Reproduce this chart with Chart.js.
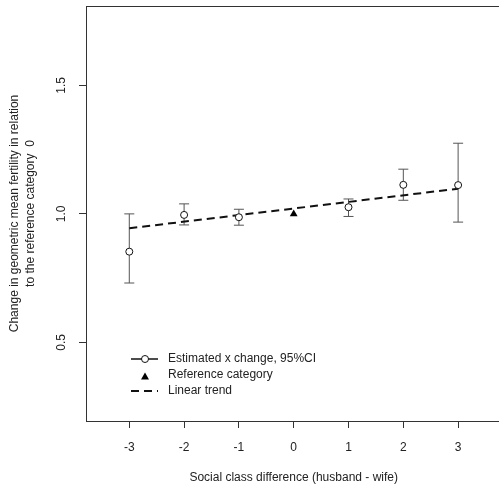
<!DOCTYPE html>
<html>
<head>
<meta charset="utf-8">
<script src="https://cdn.jsdelivr.net/npm/chart.js@4/dist/chart.umd.min.js"></script>
<style>
  html, body { margin: 0; padding: 0; background: #fff; overflow: hidden; }
  #chart { display: block; }
</style>
</head>
<body>
<canvas id="chart" width="499" height="486"></canvas>
<script>
// values
const classDiff = [-3, -2, -1, 1, 2, 3];
const estimate  = [0.853, 0.996, 0.987, 1.026, 1.113, 1.112];
const ciLower   = [0.731, 0.957, 0.956, 0.990, 1.053, 0.968];
const ciUpper   = [1.000, 1.039, 1.018, 1.058, 1.174, 1.275];
const refX = [0];
const refY = [1.0];
const trendX = [-3, 3];
const trendY = [0.944, 1.098];
const xTicks = [-3, -2, -1, 0, 1, 2, 3];
const yTicks = [0.5, 1.0, 1.5];

const FONT = "'Liberation Sans', Arial, sans-serif";
const INK = '#222';

// whiskers for the confidence intervals
const errorBars = {
    id: 'errorBars',
    beforeDatasetsDraw(chart) {
        const { ctx, scales: { x, y } } = chart;
        ctx.save();
        ctx.strokeStyle = '#555';
        ctx.lineWidth = 1;
        classDiff.forEach((v, i) => {
            const px = x.getPixelForValue(v);
            const lo = y.getPixelForValue(ciLower[i]);
            const hi = y.getPixelForValue(ciUpper[i]);
            ctx.beginPath();
            ctx.moveTo(px, lo); ctx.lineTo(px, hi);
            ctx.moveTo(px - 5, lo); ctx.lineTo(px + 5, lo);
            ctx.moveTo(px - 5, hi); ctx.lineTo(px + 5, hi);
            ctx.stroke();
        });
        ctx.restore();
    }
};

// box (right side falls off the picture), rotated y labels, x title and the legend
const decorations = {
    id: 'decorations',
    afterDraw(chart) {
        const { ctx, chartArea: a, scales: { x, y } } = chart;
        ctx.save();
        ctx.strokeStyle = '#333';
        ctx.lineWidth = 1;
        ctx.strokeRect(Math.round(a.left) + 0.5, Math.round(a.top) + 0.5,
            Math.round(a.right - a.left) + 2, Math.round(a.bottom - a.top));

        ctx.fillStyle = INK;
        ctx.font = '12px ' + FONT;
        ctx.textAlign = 'center';
        ctx.textBaseline = 'middle';
        yTicks.forEach(v => {
            ctx.save();
            ctx.translate(62, y.getPixelForValue(v));
            ctx.rotate(-Math.PI / 2);
            ctx.fillText(v.toFixed(1), 0, 0);
            ctx.restore();
        });

        const midY = (a.top + a.bottom) / 2;
        [['Change in geometric mean fertility in relation', 15],
         ['to the reference category  0', 31]].forEach(([t, lx]) => {
            ctx.save();
            ctx.translate(lx, midY);
            ctx.rotate(-Math.PI / 2);
            ctx.fillText(t, 0, 0);
            ctx.restore();
        });

        ctx.fillText('Social class difference (husband - wife)', x.getPixelForValue(0), 478);

        // legend
        const lx = 145, tx = 168;
        ctx.textAlign = 'left';
        ctx.strokeStyle = '#111';
        ctx.lineWidth = 1.5;
        ctx.beginPath(); ctx.moveTo(131, 359); ctx.lineTo(158, 359); ctx.stroke();
        ctx.fillStyle = '#fff';
        ctx.lineWidth = 1;
        ctx.beginPath(); ctx.arc(lx, 359, 3.5, 0, Math.PI * 2); ctx.fill(); ctx.stroke();
        ctx.fillStyle = '#000';
        ctx.beginPath(); ctx.moveTo(lx, 372.5); ctx.lineTo(lx + 4, 379.5); ctx.lineTo(lx - 4, 379.5); ctx.closePath(); ctx.fill();
        ctx.lineWidth = 2;
        ctx.setLineDash([8, 5]);
        ctx.beginPath(); ctx.moveTo(131, 391); ctx.lineTo(158, 391); ctx.stroke();
        ctx.setLineDash([]);
        ctx.fillStyle = INK;
        ctx.fillText('Estimated x change, 95%CI', tx, 359);
        ctx.fillText('Reference category', tx, 375);
        ctx.fillText('Linear trend', tx, 391);
        ctx.restore();
    }
};

new Chart(document.getElementById('chart'), {
    type: 'scatter',
    data: {
        datasets: [
            {
                label: 'Estimated x change, 95%CI',
                data: classDiff.map((v, i) => ({ x: v, y: estimate[i] })),
                pointStyle: 'circle', pointRadius: 3.5,
                pointBackgroundColor: '#fff', pointBorderColor: '#111', pointBorderWidth: 1
            },
            {
                label: 'Reference category',
                data: refX.map((v, i) => ({ x: v, y: refY[i] })),
                pointStyle: 'triangle', pointRadius: 4.5,
                pointBackgroundColor: '#000', pointBorderColor: '#000', pointBorderWidth: 0
            },
            {
                label: 'Linear trend',
                data: trendX.map((v, i) => ({ x: v, y: trendY[i] })),
                showLine: true, pointRadius: 0,
                borderColor: '#111', borderWidth: 2, borderDash: [8, 5]
            }
        ]
    },
    options: {
        responsive: false, animation: false, devicePixelRatio: 1,
        // autoPadding would pull the right edge in by the point radius
        layout: { autoPadding: false, padding: { top: 6, right: 0, left: 0, bottom: 0 } },
        plugins: { legend: { display: false }, tooltip: { enabled: false } },
        scales: {
            x: {
                // plot is cut at the right edge of the picture
                type: 'linear', min: -3.79, max: 3.746,
                afterBuildTicks: s => { s.ticks = xTicks.map(v => ({ value: v })); },
                afterFit: s => { s.height = 65; s.paddingLeft = 0; s.paddingRight = 0; },
                grid: { drawOnChartArea: false, drawTicks: true, tickLength: 7, color: '#333' },
                border: { display: false },
                ticks: { color: INK, font: { family: FONT, size: 12 }, padding: 12, maxRotation: 0 },
                title: { display: false }
            },
            y: {
                type: 'linear', min: 0.194, max: 1.809,
                afterBuildTicks: s => { s.ticks = yTicks.map(v => ({ value: v })); },
                afterFit: s => { s.width = 86; s.paddingTop = 0; s.paddingBottom = 0; },
                grid: { drawOnChartArea: false, drawTicks: true, tickLength: 7, color: '#333' },
                border: { display: false },
                ticks: { display: false }
            }
        }
    },
    plugins: [errorBars, decorations]
});
</script>
</body>
</html>
